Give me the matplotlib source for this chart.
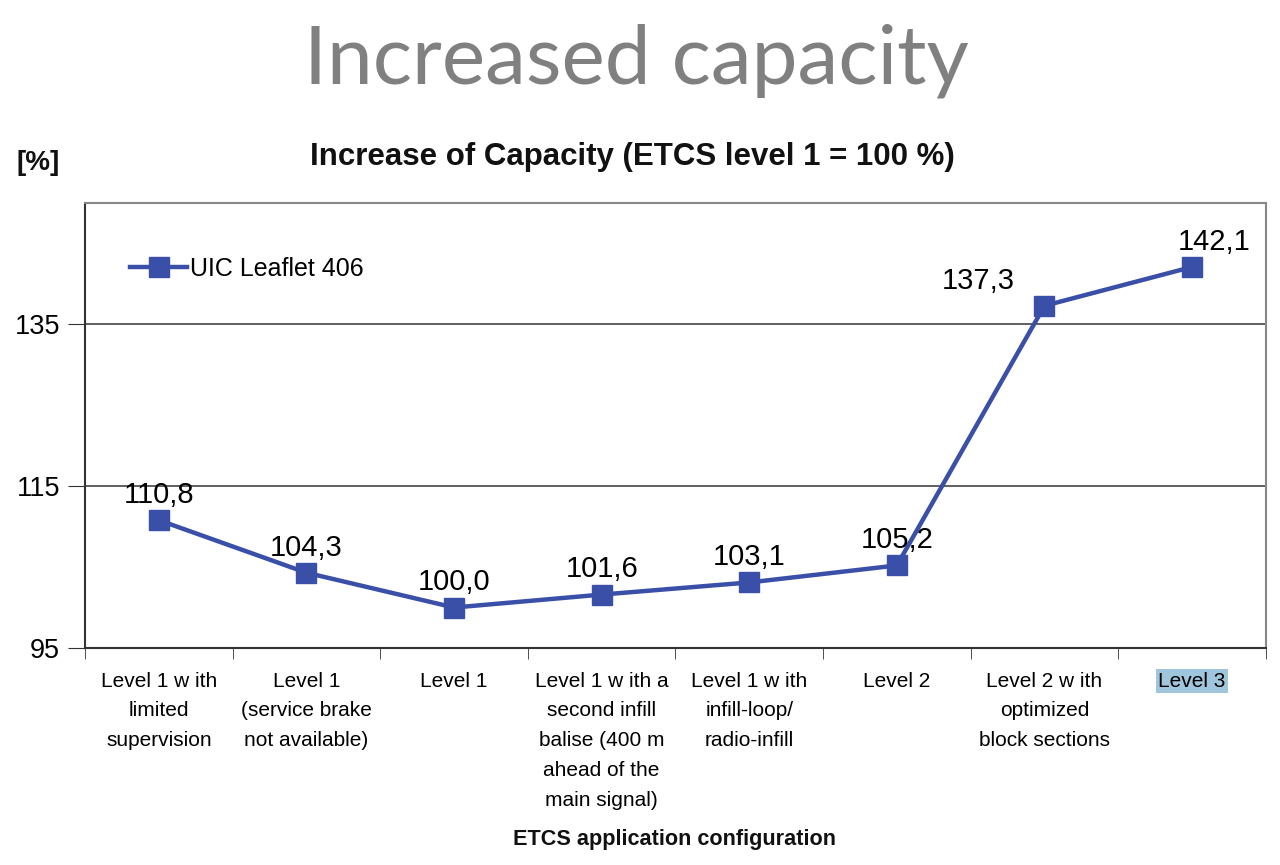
import matplotlib.pyplot as plt

categories = [
    "Level 1 w ith\nlimited\nsupervision",
    "Level 1\n(service brake\nnot available)",
    "Level 1",
    "Level 1 w ith a\nsecond infill\nbalise (400 m\nahead of the\nmain signal)",
    "Level 1 w ith\ninfill-loop/\nradio-infill",
    "Level 2",
    "Level 2 w ith\noptimized\nblock sections",
    "Level 3",
]
values = [110.8, 104.3, 100.0, 101.6, 103.1, 105.2, 137.3, 142.1]
yticks = [95, 115, 135]

blue = "#3a4fa8"
plt.rcParams['font.family'] = ['Liberation Sans', 'DejaVu Sans']

fig = plt.figure(figsize=(12.8, 8.65), dpi=100)
ax = fig.add_axes([0.0664, 0.2509, 0.9226, 0.5144])

x = list(range(len(values)))
ax.plot(x, values, '-s', color=blue, lw=3.2, ms=14, label='UIC Leaflet 406')

# data labels
for i, v in enumerate(values):
    dx, dy = 0, 8
    if i == 6:
        dx = -48
    if i == 7:
        dx = 16
    ax.annotate(f"{v:.1f}".replace('.', ','), (i, v), xytext=(dx, dy),
                textcoords='offset points', ha='center', va='bottom', fontsize=21)

ax.set_xlim(-0.5, len(values) - 0.5)
ax.set_ylim(95, 150)
ax.set_yticks(yticks)
ax.set_yticklabels([str(t) for t in yticks], fontsize=19.5)
ax.grid(axis='y', color='#444444', lw=1.2)
ax.set_axisbelow(True)

ax.set_xticks(x)
ax.set_xticklabels(categories, fontsize=15, linespacing=1.72, va='top')
ax.tick_params(axis='x', length=0, pad=17)
ax.set_xticks([i + 0.5 for i in range(-1, len(values))], minor=True)
ax.tick_params(axis='x', which='minor', length=8, direction='out', color='#333333')
ax.tick_params(axis='y', length=12, direction='out', color='#333333', pad=6)
lbl = ax.get_xticklabels()[-1]
lbl.set_bbox(dict(facecolor='#9fc6dc', edgecolor='none', pad=1.5))

for s in ax.spines.values():
    s.set_color('#888888')
    s.set_linewidth(1.5)
ax.spines['bottom'].set_color('#333333')
ax.spines['left'].set_color('#333333')

ax.legend(loc='upper left', bbox_to_anchor=(0.019, 0.93), frameon=False,
          fontsize=18, handlelength=2.3, handletextpad=0.1)

fig.text(0.497, 0.93, "Increased capacity", ha='center', va='center',
         fontsize=59, color='#808080', family='Lato')
fig.text(0.494, 0.818, "Increase of Capacity (ETCS level 1 = 100 %)", ha='center',
         va='center', fontsize=22.5, fontweight='bold', color='#111111')
fig.text(0.03, 0.811, "[%]", ha='center', va='center', fontsize=20,
         fontweight='bold', color='#111111')
fig.text(0.527, 0.029, "ETCS application configuration", ha='center', va='center',
         fontsize=15.6, fontweight='bold', color='#111111')

fig.savefig('out.png', dpi=100)
